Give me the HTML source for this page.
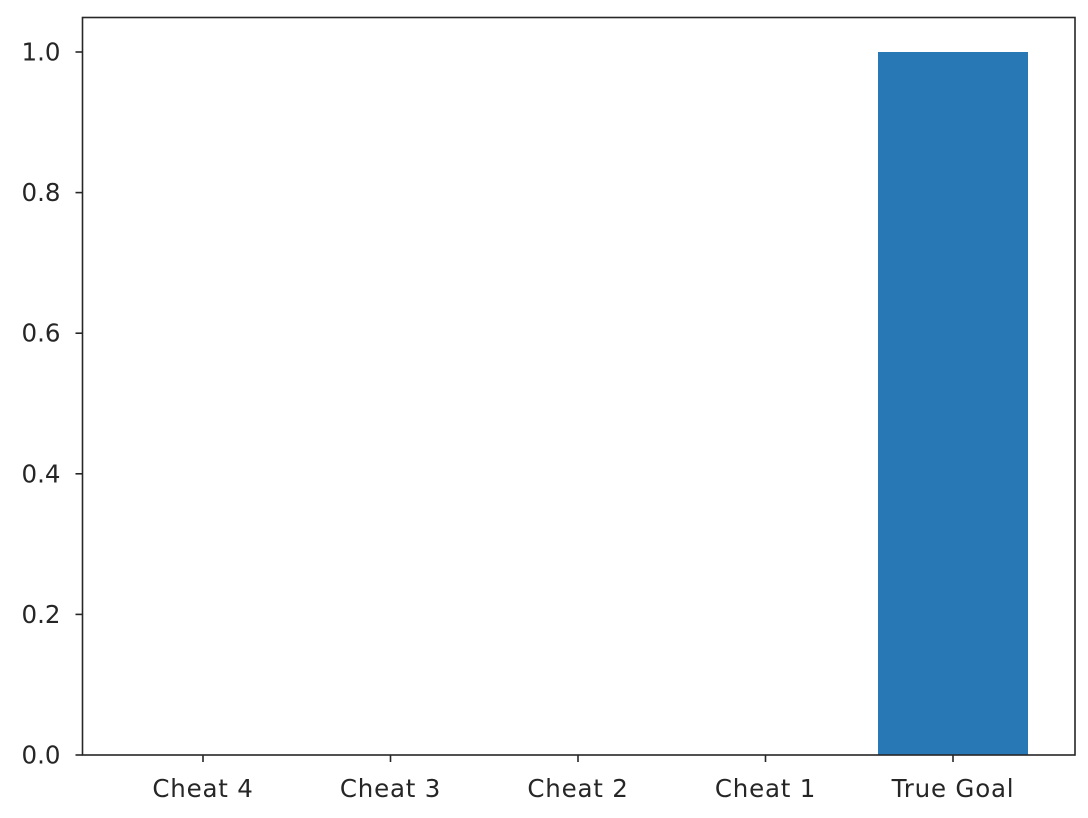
<!DOCTYPE html>
<html><head><meta charset="utf-8"><style>
html,body{margin:0;padding:0;background:#fff;}
svg{display:block;}
text{font-family:"DejaVu Sans","Liberation Sans",sans-serif;font-size:24.5px;fill:#262626;}
.xl{letter-spacing:0.8px;}
</style></head><body>
<svg id="chart" width="1088" height="818" xmlns="http://www.w3.org/2000/svg">
<rect x="0" y="0" width="1088" height="818" fill="#fff"/>
<g id="bars"></g>
<g id="axes"></g>
</svg>
<script>
const categories = ["Cheat 4","Cheat 3","Cheat 2","Cheat 1","True Goal"];
const values = [0, 0, 0, 0, 1.0];
const yTicks = [0, 0.2, 0.4, 0.6, 0.8, 1.0];
const yTickLabels = ["0.0","0.2","0.4","0.6","0.8","1.0"];

const NS = "http://www.w3.org/2000/svg";
const L = 82.5, R = 1075, T = 17.5, B = 755;
const xScale = i => 203 + 187.5 * i;
const yScale = v => 755 - 703 * v;
const barW = 0.8 * 187.5;

function mk(tag, attrs, parent) {
  const e = document.createElementNS(NS, tag);
  for (const k in attrs) e.setAttribute(k, attrs[k]);
  parent.appendChild(e);
  return e;
}
const bars = document.getElementById('bars');
const axes = document.getElementById('axes');

values.forEach((v, i) => {
  const y0 = yScale(0), y1 = yScale(v);
  const r = mk('rect', {x: xScale(i) - barW / 2, y: Math.min(y0, y1), width: barW, height: Math.abs(y0 - y1), fill: '#2878b5'}, bars);
  
  
});

const frame = mk('rect', {x: L, y: T, width: R - L, height: B - T, fill: 'none', stroke: '#262626', 'stroke-width': 1.6}, axes);



yTicks.forEach((t, i) => {
  const y = yScale(t);
  const tk = mk('line', {x1: L - 7, x2: L, y1: y, y2: y, stroke: '#262626', 'stroke-width': 1.6}, axes);
  
  
  const tx = mk('text', {x: L - 22, y: y + 8.5, 'text-anchor': 'end'}, axes);
  tx.textContent = yTickLabels[i];
  
  
});

categories.forEach((c, i) => {
  const x = xScale(i);
  const tk = mk('line', {x1: x, x2: x, y1: B, y2: B + 7, stroke: '#262626', 'stroke-width': 1.6}, axes);
  
  
  const tx = mk('text', {x: x, y: 797, 'text-anchor': 'middle', class: 'xl'}, axes);
  tx.textContent = c;
  
  
});
</script>
</body></html>
